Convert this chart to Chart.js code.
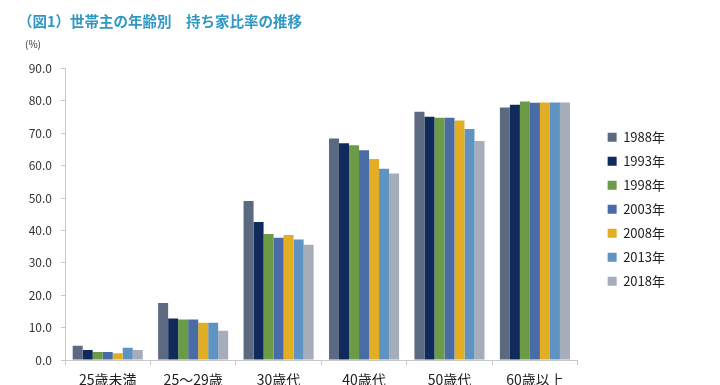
<!DOCTYPE html>
<html>
<head>
<meta charset="utf-8">
<script src="https://cdn.jsdelivr.net/npm/chart.js@4/dist/chart.umd.min.js"></script>
<style>
html,body{margin:0;padding:0;background:#fff;overflow:hidden;}
#wrap{position:relative;width:720px;height:385px;}
</style>
</head>
<body>
<div id="wrap"><canvas id="c" width="720" height="385"></canvas></div>
<script>
const categories = ['25歳未満', '25～29歳', '30歳代', '40歳代', '50歳代', '60歳以上'];
const seriesNames = ['1988年', '1993年', '1998年', '2003年', '2008年', '2013年', '2018年'];
const s1988 = [4.4, 17.6, 49.1, 68.4, 76.6, 77.9];
const s1993 = [3.1, 12.8, 42.6, 66.9, 75.1, 78.8];
const s1998 = [2.5, 12.5, 38.9, 66.3, 74.8, 79.8];
const s2003 = [2.5, 12.5, 37.7, 64.7, 74.8, 79.4];
const s2008 = [2.1, 11.5, 38.6, 62.0, 73.9, 79.5];
const s2013 = [3.8, 11.5, 37.2, 59.0, 71.3, 79.5];
const s2018 = [3.1, 9.0, 35.6, 57.6, 67.6, 79.5];
const yTicks = [0, 10, 20, 30, 40, 50, 60, 70, 80, 90];
const colors = ['#5b6981', '#112a5c', '#6b9b47', '#4a6ca6', '#e2ae24', '#5e93c2', '#a5adba'];

const values = [s1988, s1993, s1998, s2003, s2008, s2013, s2018];
const FONT = '"Noto Sans CJK JP", "Noto Sans", sans-serif';

const extraText = {
  id: 'extraText',
  afterDraw(chart) {
    const ctx = chart.ctx;
    ctx.save();
    ctx.fillStyle = '#333';
    ctx.font = '10px ' + FONT;
    ctx.textBaseline = 'middle';
    ctx.textAlign = 'left';
    ctx.fillText('(%)', 25, 44);
    ctx.restore();
  }
};

new Chart(document.getElementById('c'), {
  type: 'bar',
  data: {
    labels: categories,
    datasets: seriesNames.map((n, i) => ({
      label: n,
      data: values[i],
      backgroundColor: colors[i],
      borderWidth: 0,
      categoryPercentage: 0.82,
      barPercentage: 1.0
    }))
  },
  options: {
    responsive: false,
    animation: false,
    layout: { padding: { left: 18, right: 45, top: 0, bottom: 0 } },
    plugins: {
      title: {
        display: true,
        text: '（図1）世帯主の年齢別　持ち家比率の推移',
        align: 'start',
        color: '#2f98c4',
        font: { family: FONT, size: 14.5, weight: 'bold' },
        padding: { top: 13, bottom: 38 }
      },
      legend: {
        position: 'right',
        align: 'center',
        title: { display: true, text: ' ', font: { family: FONT, size: 13 }, padding: { top: 18, bottom: 0 } },
        labels: {
          boxWidth: 9,
          boxHeight: 9,
          padding: 11,
          color: '#222',
          font: { family: FONT, size: 13, lineHeight: 1.25 }
        }
      },
      tooltip: { enabled: false }
    },
    scales: {
      x: {
        grid: { display: true, drawOnChartArea: false, drawTicks: true, tickLength: 5, color: '#c8c8c8', offset: true },
        border: { display: true, color: '#c8c8c8' },
        ticks: { color: '#222', font: { family: FONT, size: 14 }, padding: 6, maxRotation: 0 },
        afterFit(a) { a.height = 25; }
      },
      y: {
        min: 0, max: 90,
        afterBuildTicks(a) { a.ticks = yTicks.map(v => ({ value: v })); },
        grid: { display: true, drawOnChartArea: false, drawTicks: true, tickLength: 4, color: '#c8c8c8' },
        border: { display: true, color: '#c8c8c8' },
        ticks: { color: '#333', font: { family: FONT, size: 12 }, padding: 9, callback: v => Number(v).toFixed(1) },
        afterFit(a) { a.width = 47; }
      },
      yr: {
        type: 'linear',
        position: 'right',
        display: true,
        grid: { display: false },
        border: { display: false },
        ticks: { display: false },
        afterFit(a) { a.width = 19; }
      }
    }
  },
  plugins: [extraText]
});
</script>
</body>
</html>
